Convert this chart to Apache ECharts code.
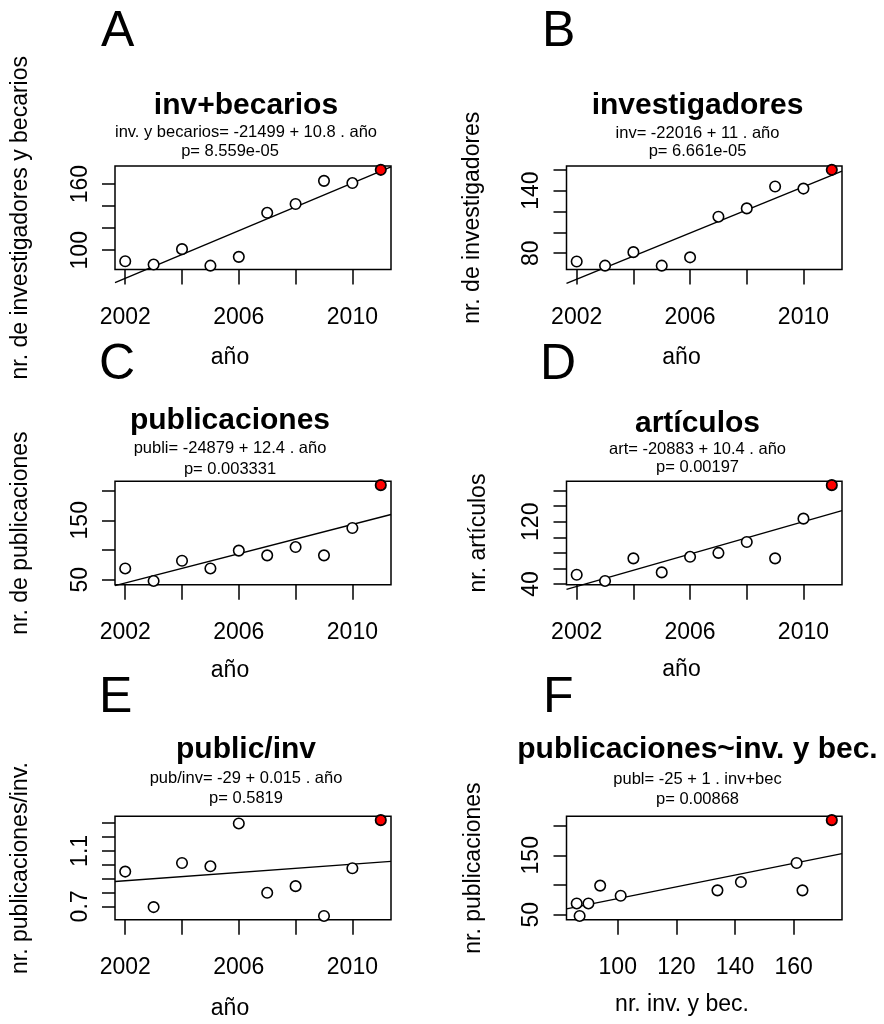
<!DOCTYPE html>
<html><head><meta charset="utf-8">
<script src="https://cdn.jsdelivr.net/npm/echarts@6/dist/echarts.min.js"></script>
<style>html,body{margin:0;padding:0;background:#fff}#c{width:884px;height:1024px}</style>
</head><body><div id="c"></div>
<script>
// ---- data ----
const years = [2002, 2003, 2004, 2005, 2006, 2007, 2008, 2009, 2010, 2011];
const invBecarios = [90, 87, 101, 86, 94, 134, 142, 163, 161, 173];
const investigadores = [72, 68, 81, 68, 76, 115, 123, 144, 142, 160];
const publicaciones = [69, 48, 82, 69, 99, 91, 105, 91, 137, 209];
const articulos = [52, 44, 73, 55, 75, 80, 94, 73, 124, 167];
const publicPorInv = [0.951, 0.695, 1.013, 0.989, 1.298, 0.798, 0.846, 0.631, 0.975, 1.322];

// tick marks and tick labels
const yearTicks = [2002, 2004, 2006, 2008, 2010];
const yearLabels = [2002, 2006, 2010];
const ticksA = [100, 120, 140, 160], labelsA = [100, 160];
const ticksB = [80, 100, 120, 140, 160], labelsB = [80, 140];
const ticksC = [50, 100, 150, 200], labelsC = [50, 150];
const ticksD = [40, 60, 80, 100, 120, 140, 160], labelsD = [40, 120];
const ticksE = [0.7, 0.8, 0.9, 1.0, 1.1, 1.2, 1.3], labelsE = [0.7, 1.1];
const ticksFx = [100, 120, 140, 160], labelsFx = [100, 120, 140, 160];
const ticksFy = [50, 100, 150, 200], labelsFy = [50, 150];

// texts
const letters = ['A', 'B', 'C', 'D', 'E', 'F'];
const mainTitles = ['inv+becarios', 'investigadores', 'publicaciones', 'artículos', 'public/inv', 'publicaciones~inv. y bec.'];
const subTitles = ['inv. y becarios= -21499 + 10.8 . año', 'inv= -22016 + 11 . año', 'publi= -24879 + 12.4 . año',
  'art= -20883 + 10.4 . año', 'pub/inv= -29 + 0.015 . año', 'publ= -25 + 1 . inv+bec'];
const pTexts = ['p= 8.559e-05', 'p= 6.661e-05', 'p= 0.003331', 'p= 0.00197', 'p= 0.5819', 'p= 0.00868'];
const xNames = ['año', 'año', 'año', 'año', 'año', 'nr. inv. y bec.'];
const yNames = ['nr. de investigadores y becarios', 'nr. de investigadores', 'nr. de publicaciones',
  'nr. artículos', 'nr. publicaciones/inv.', 'nr. publicaciones'];

// ---- helpers ----
const FONT = '"Liberation Sans", Arial, Helvetica, sans-serif';
function pad(arr) { const mn = Math.min(...arr), mx = Math.max(...arr), d = (mx - mn) * 0.04; return [mn - d, mx + d]; }
function fit(x, y) {
  const n = x.length; const mx = x.reduce((s, v) => s + v, 0) / n; const my = y.reduce((s, v) => s + v, 0) / n;
  let sxy = 0, sxx = 0; for (let i = 0; i < n; i++) { sxy += (x[i] - mx) * (y[i] - my); sxx += (x[i] - mx) * (x[i] - mx); }
  const b = sxy / sxx; return [my - b * mx, b];
}
const plain = v => String(Math.round(v * 1000) / 1000);

const panels = [
  { x: years, y: invBecarios, xt: yearTicks, xl: yearLabels, yt: ticksA, yl: labelsA },
  { x: years, y: investigadores, xt: yearTicks, xl: yearLabels, yt: ticksB, yl: labelsB },
  { x: years, y: publicaciones, xt: yearTicks, xl: yearLabels, yt: ticksC, yl: labelsC },
  { x: years, y: articulos, xt: yearTicks, xl: yearLabels, yt: ticksD, yl: labelsD },
  { x: years, y: publicPorInv, xt: yearTicks, xl: yearLabels, yt: ticksE, yl: labelsE },
  { x: invBecarios, y: publicaciones, xt: ticksFx, xl: labelsFx, yt: ticksFy, yl: labelsFy }
];

// layout (pixels)
const colLeft = [115, 566.5], colWidth = [276, 275.5];
const rowTop = [166, 481.3, 816.3], boxH = 103.5;
const layout = {
  letterX: [101, 542, 99, 540, 99, 543], letterBase: [50, 50, 383, 383, 716, 716],
  titleX: [246, 697.5, 230, 697.5, 246, 697.5], titleBase: [116, 116, 431, 434, 760, 760],
  subX: [246, 697.5, 230, 697.5, 246, 697.5], subBase: [138, 139, 454.3, 455, 784, 785.7],
  pX: [230, 697.5, 230, 697.5, 246, 697.5], pBase: [157, 157, 475, 473.3, 804.3, 805],
  xnX: [230, 681.5, 230, 681.5, 230, 682], xnBase: [366, 366, 679, 678, 1017, 1013],
  ynX: [21, 473, 21, 479, 21, 474]
};

const grids = [], xAxes = [], yAxes = [], series = [], graphics = [];
function txt(text, x, base, size, opts) {
  opts = opts || {};
  return {
    type: 'text', x: x, y: base - 0.35 * size, silent: true,
    style: { text: text, fontSize: size, fontFamily: FONT, fontWeight: opts.bold ? 'bold' : 'normal', fill: '#000',
      align: opts.align || 'center', verticalAlign: 'middle' }
  };
}

panels.forEach((p, i) => {
  const col = i % 2, row = Math.floor(i / 2);
  grids.push({ left: colLeft[col], top: rowTop[row], width: colWidth[col], height: boxH, show: true,
    borderColor: '#000', borderWidth: 1.5, backgroundColor: 'transparent', containLabel: false, outerBoundsMode: 'none' });
  const xr = pad(p.x), yr = pad(p.y);
  xAxes.push({ type: 'value', gridIndex: i, min: xr[0], max: xr[1], axisLine: { show: false, onZero: false },
    splitLine: { show: false },
    axisTick: { show: true, customValues: p.xt, length: 15, lineStyle: { color: '#000', width: 1.5 } },
    axisLabel: { customValues: p.xl, formatter: plain, fontSize: 23, fontFamily: FONT, color: '#000', margin: 36.5, hideOverlap: false } });
  yAxes.push({ type: 'value', gridIndex: i, min: yr[0], max: yr[1], axisLine: { show: false, onZero: false },
    splitLine: { show: false },
    axisTick: { show: true, customValues: p.yt, length: 13, lineStyle: { color: '#000', width: 1.5 } },
    axisLabel: { customValues: p.yl, formatter: plain, rotate: 90, fontSize: 23, fontFamily: FONT, color: '#000', margin: 23, hideOverlap: false } });
  const ab = fit(p.x, p.y);
  series.push({ type: 'line', xAxisIndex: i, yAxisIndex: i, clip: false, symbol: 'none', silent: true, z: 2,
    lineStyle: { color: '#000', width: 1.4 },
    data: [[xr[0], ab[0] + ab[1] * xr[0]], [xr[1], ab[0] + ab[1] * xr[1]]] });
  const pts = p.x.map((v, k) => [v, p.y[k]]);
  series.push({ type: 'scatter', xAxisIndex: i, yAxisIndex: i, symbol: 'circle', symbolSize: 10.5, z: 3, silent: true,
    itemStyle: { color: '#fff', borderColor: '#000', borderWidth: 1.6, opacity: 1 }, data: pts });
  series.push({ type: 'scatter', xAxisIndex: i, yAxisIndex: i, symbol: 'circle', symbolSize: 9.5, z: 4, silent: true,
    itemStyle: { color: '#ff0000', borderColor: '#000', borderWidth: 1, opacity: 1 }, data: [pts[pts.length - 1]] });

  graphics.push(txt(letters[i], layout.letterX[i], layout.letterBase[i], 50, { align: 'left' }));
  graphics.push(txt(mainTitles[i], layout.titleX[i], layout.titleBase[i], 30, { bold: true }));
  graphics.push(txt(subTitles[i], layout.subX[i], layout.subBase[i], 16.5));
  graphics.push(txt(pTexts[i], layout.pX[i], layout.pBase[i], 16.5));
  graphics.push(txt(xNames[i], layout.xnX[i], layout.xnBase[i], 23));
  graphics.push({ type: 'text', x: layout.ynX[i], y: rowTop[row] + boxH / 2, rotation: Math.PI / 2, silent: true,
    style: { text: yNames[i], fontSize: 23, fontFamily: FONT, fill: '#000', align: 'center', verticalAlign: 'middle' } });
});

const chart = echarts.init(document.getElementById('c'), null, { renderer: 'canvas' });
chart.setOption({
  animation: false, backgroundColor: '#fff',
  grid: grids, xAxis: xAxes, yAxis: yAxes, series: series, graphic: { elements: graphics }
});
</script></body></html>
